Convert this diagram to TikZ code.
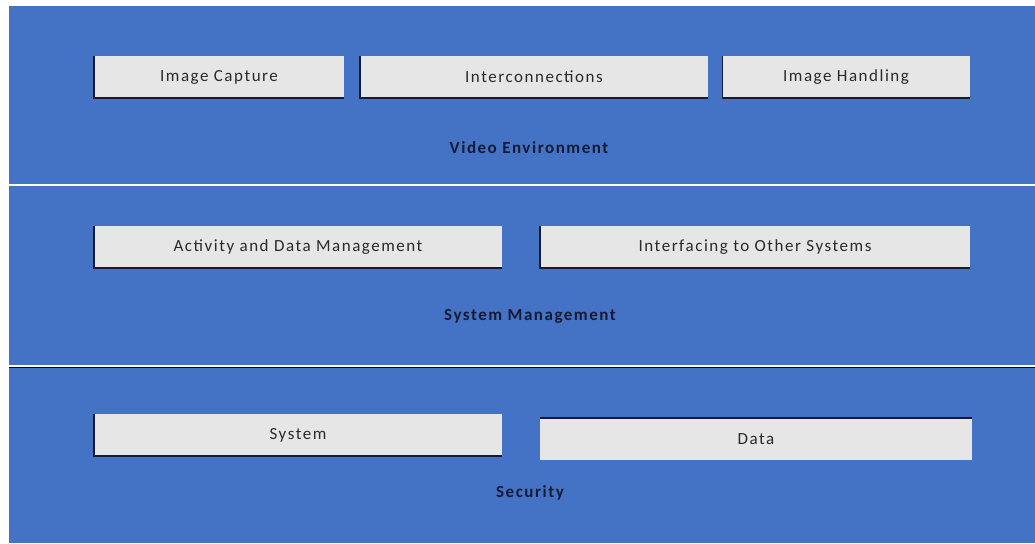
\documentclass[tikz,border=0pt]{standalone}
\usepackage{fontspec}
\setmainfont{Carlito}[LetterSpace=9]
\definecolor{band}{HTML}{4472C4}
\definecolor{boxgray}{HTML}{E6E6E6}
\definecolor{shade}{HTML}{161B33}
\definecolor{ink}{HTML}{2A2A2A}
\begin{document}
\begin{tikzpicture}[x=1pt,y=-1pt]

        \useasboundingbox (0,0) rectangle (1035,543);
        \fill[band] (9,6) rectangle (1035,543);

        \coordinate (l1) at (9,185);
        \coordinate (r1) at (1035,185);
        \coordinate (l2) at (9,366);
        \coordinate (r2) at (1035,366);
        \draw[white, line width=1.5pt] (l1) -- (r1);
        \draw[white, line width=1.5pt] (l2) -- (r2);
        \draw[shade, line width=1pt] ([yshift=-1.6pt]l2) -- ([yshift=-1.6pt]r2);

        \begin{scope}[every node/.style={fill=boxgray, text=ink, inner sep=0pt, minimum height=42pt, font=\fontsize{17}{20}\selectfont}]
          \node[minimum width=250pt] (1) at (219,77)  {Image Capture};
          \node[minimum width=348pt] (2) at (534,77)  {Interconnections};
          \node[minimum width=247pt] (3) at (846,77)  {Image Handling};
          \node[minimum width=408pt] (4) at (298,247) {Activity and Data Management};
          \node[minimum width=430pt] (5) at (755,247) {Interfacing to Other Systems};
          \node[minimum width=408pt] (6) at (298,435) {System};
          \node[minimum width=432pt] (7) at (756,439) {Data};
        \end{scope}

        \begin{scope}[every path/.style={draw=shade, line width=1.5pt}]
          \path (1.north west) |- (1.south east);
          \path (2.north west) |- (2.south east);
          \path (3.north west) |- (3.south east);
          \path (4.north west) |- (4.south east);
          \path (5.north west) |- (5.south east);
          \path (6.north west) |- (6.south east);
          \path (7.north west) -- (7.north east);
        \end{scope}

        \begin{scope}[every node/.style={text=shade, font=\fontsize{17}{20}\selectfont\bfseries}]
          \node (ve) at (529,148) {Video Environment};
          \node (sm) at (530,316) {System Management};
          \node (se) at (530,493) {Security};
        \end{scope}

\end{tikzpicture}
\end{document}
